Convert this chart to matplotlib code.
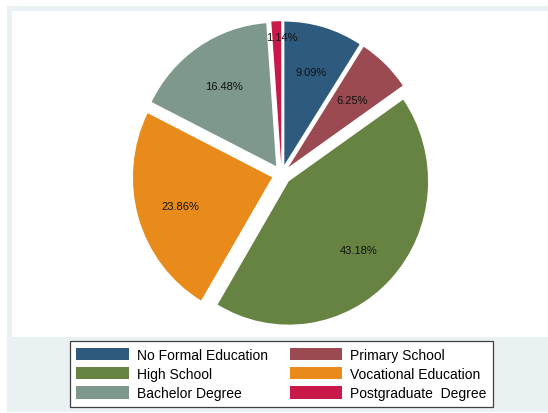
import matplotlib
matplotlib.use('Agg')
import matplotlib.pyplot as plt
import numpy as np
from matplotlib.patches import Rectangle

plt.rcParams['font.family'] = ['Liberation Sans', 'DejaVu Sans']

# counts of respondents per education level (176 total)
categories = ['No Formal Education', 'Primary School', 'High School',
              'Vocational Education', 'Bachelor Degree', 'Postgraduate  Degree']
counts = [16, 11, 76, 42, 29, 2]
colors = ['#2e5a7e', '#9a4a50', '#668341', '#e88b1a', '#7e988c', '#c81948']
label_dist = [0.68, 0.66, 0.69, 0.69, 0.68, 0.9]

W, H = 548, 414
fig = plt.figure(figsize=(W / 100, H / 100), dpi=100)


def px_rect(x0, y0, x1, y1):
    # pixel box (top-left origin) -> figure fraction
    return [x0 / W, 1 - y1 / H, (x1 - x0) / W, (y1 - y0) / H]


r = px_rect(7, 7, 548, 413)
fig.patches.append(Rectangle((r[0], r[1]), r[2], r[3], transform=fig.transFigure,
                             facecolor='#eaf1f3', edgecolor='none', zorder=-2))
r = px_rect(12, 12, 548, 338)
fig.patches.append(Rectangle((r[0], r[1]), r[2], r[3], transform=fig.transFigure,
                             facecolor='white', edgecolor='none', zorder=-1))

# pie axes, centre and radii in pixels
cx, cy, rx, ry = 281.6, 175.5, 139.3, 143.3
ax = fig.add_axes(px_rect(cx - 1.2 * rx, cy - 1.2 * ry, cx + 1.2 * rx, cy + 1.2 * ry))
ax.patch.set_visible(False)

wedges, texts, autotexts = ax.pie(
    counts, colors=colors, explode=[0.07] * len(counts), startangle=90,
    counterclock=False, autopct='%.2f%%', pctdistance=0.7,
    wedgeprops=dict(linewidth=0), textprops=dict(fontsize=8, color='#111111'))

for w, t, d in zip(wedges, autotexts, label_dist):
    ang = np.deg2rad((w.theta1 + w.theta2) / 2)
    x0, y0 = w.center
    t.set_position((x0 + d * np.cos(ang), y0 + d * np.sin(ang)))
    t.set_va('center_baseline')
autotexts[-1].set_x(0.0)

ax.set_aspect('auto')
ax.set_xlim(-1.2, 1.2)
ax.set_ylim(-1.2, 1.2)
ax.axis('off')

# legend is filled row by row in the reference
order = [0, 2, 4, 1, 3, 5]
leg = fig.legend([wedges[i] for i in order], [categories[i] for i in order],
                 loc='center', ncol=2,
                 bbox_to_anchor=(281.5 / W, 1 - 375 / H),
                 fontsize=10, handlelength=3.8, handleheight=1.0,
                 handletextpad=0.58, columnspacing=1.55, labelspacing=0.38,
                 borderpad=0.45, fancybox=False, framealpha=1)
leg.get_frame().set_edgecolor('#404040')
leg.get_frame().set_linewidth(0.9)

fig.savefig('out.png', dpi=100)
